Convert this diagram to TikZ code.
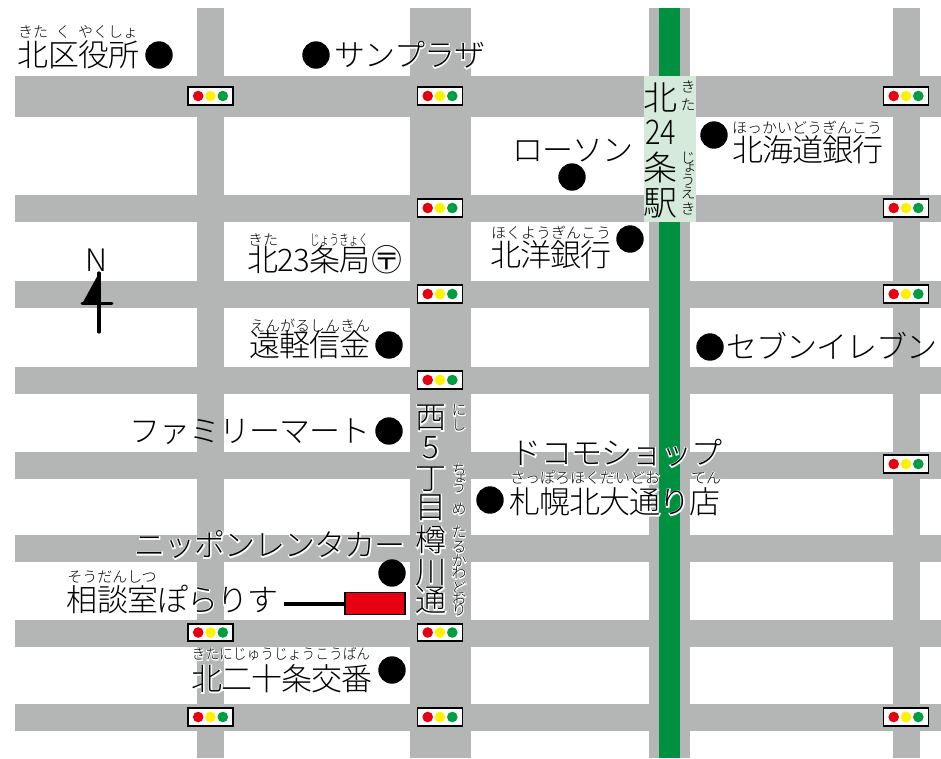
\documentclass[tikz,border=0pt]{standalone}
\usepackage{fontspec}
\usepackage{graphicx}
\setmainfont{Noto Sans CJK JP Light}
\newfontfamily\jpbig[LetterSpace=-3.2]{Noto Sans CJK JP Light}
\newfontfamily\jphalobig[LetterSpace=-3.2,FakeBold=7]{Noto Sans CJK JP Light}
\newfontfamily\jphalosmall[FakeBold=12]{Noto Sans CJK JP Light}
\newfontfamily\jphalovert[FakeBold=12,RawFeature=+vert]{Noto Sans CJK JP Light}
\newfontfamily\jpvert[RawFeature=+vert]{Noto Sans CJK JP Light}
\definecolor{roadgray}{HTML}{B4B5B5}
\definecolor{railgreen}{HTML}{009140}
\definecolor{stationgreen}{HTML}{D5EADA}
\definecolor{sigred}{HTML}{E60012}
\definecolor{sigyellow}{HTML}{FFF100}
\definecolor{siggreen}{HTML}{009E40}
\newcommand{\hl}[1]{\leavevmode\rlap{\color{white}\jphalocur #1}#1}
\newcommand{\hlv}[1]{\leavevmode\rlap{\color{white}\jphalovert #1}\jpvert #1}
\tikzset{
  road/.style={fill=roadgray,draw=none},
  big/.style={inner sep=0pt,font=\let\jphalocur\jphalobig\jpbig\fontsize{31}{31}\selectfont,text height=27.3pt,text depth=3.7pt},
  stationchar/.style={inner sep=0pt,font=\jpbig\fontsize{34}{34}\selectfont,text height=30pt,text depth=4pt},
  ruby/.style={inner sep=0pt,font=\let\jphalocur\jphalosmall\fontsize{15}{15}\selectfont,text height=13.2pt,text depth=1.8pt},
  spot/.style={circle,fill=black,draw=none,minimum size=27.4pt,inner sep=0pt},
  sigbox/.style={draw=black,line width=1.8pt,fill=white,minimum width=45pt,minimum height=17.3pt,inner sep=0pt},
  lamp/.style={circle,draw=none,minimum size=10.6pt,inner sep=0pt},
  signal/.pic={
    \node[sigbox] at (0,0) {};
    \node[lamp,fill=sigred] at (-12.3,0) {};
    \node[lamp,fill=sigyellow] at (0,0) {};
    \node[lamp,fill=siggreen] at (12.3,0) {};
  }
}
\begin{document}
\begin{tikzpicture}[x=1pt,y=-1pt]
\useasboundingbox (0,0) rectangle (941,758);
% roads
\foreach \a/\b in {76/117,195/222,281/308,367/394,452/479,535/562,620/647,704/731}
  \fill[road] (15,\a) rectangle (941,\b);
\foreach \a/\b in {197/224,410/471,649/690,893/920}
  \fill[road] (\a,8) rectangle (\b,758);
\fill[railgreen] (659,8) rectangle (680,758);
\fill[stationgreen] (644,76) rectangle (696,222);
% signals
\foreach \x/\y in {210.5/96,440/96,906/96,440/208,906/208,440/294,906/294,440/380,906/464,210.5/632.5,440/632.5,210.5/717,440/717,906/717}
  \pic at (\x,\y) {signal};
% spots
\node[spot] (d1) at (159,55) {};
\node[spot] (d2) at (316,55) {};
\node[spot] (d3) at (572,177) {};
\node[spot] (d4) at (714,135) {};
\node[spot] (d5) at (630,239) {};
\node[spot] (d6) at (389,345) {};
\node[spot] (d7) at (710,347) {};
\node[spot] (d8) at (389,431) {};
\node[spot] (d9) at (490,500) {};
\node[spot] (d10) at (392,573) {};
\node[spot] (d11) at (392,670) {};
% labels
\node[big] (kuyakusho) at (78.5,55) {北区役所};
\node[ruby] (r1a) at (33,32) {きた};
\node[ruby] (r1b) at (63,32) {く};
\node[ruby] (r1c) at (108,32) {やくしょ};
\node[big] (sunplaza) at (410,55) {\hl{サンプラザ}};
\node[big] (lawson) at (573,150) {ローソン};
\node[big] (hokkaido) at (808,150) {北海道銀行};
\node[ruby] (r2) at (807,128) {ほっかいどうぎんこう};
\node[big] (hokuyo) at (551,255) {北洋銀行};
\node[ruby] (r3) at (551,233) {ほくようぎんこう};
\node[big] (post) at (309,260) {北23条局};
\node[ruby] (r4a) at (263,240) {きた};
\node[ruby] (r4b) at (339,240) {\scalebox{.65}[1]{じょうきょく}};
\node[big] (postmark) at (387,260) {〶};
\node[big] (engaru) at (310,345) {遠軽信金};
\node[ruby] (r5) at (310,326) {えんがるしんきん};
\node[big] (north) at (96,260) {N};
\node[big] (seven) at (832,347) {セブンイレブン};
\node[big] (family) at (250,431) {ファミリーマート};
\node[big] (docomo) at (616.5,453) {\hl{ドコモショップ}};
\node[ruby] (r6a) at (585,478) {\hl{さっぽろほくだいどお}};
\node[ruby] (r6b) at (706,478) {\hl{てん}};
\node[big] (sapporo) at (615,502) {\hl{札幌北大通り店}};
\node[big] (nippon) at (270,545) {\hl{ニッポンレンタカー}};
\node[big] (soudan) at (172.5,600) {\hl{相談室ぽらりす}};
\node[ruby] (r7) at (112,577) {そうだんしつ};
\node[big] (koban) at (282,679) {\hl{北二十条交番}};
\node[ruby] (r8) at (281,654) {\hl{\scalebox{.915}[1]{きたにじゅうじょうこうばん}}};
% station name (vertical)
\node[stationchar] (s1) at (660.5,97) {北};
\node[stationchar] (s2) at (660.5,131) {\scalebox{.85}[1]{24}};
\node[stationchar] (s3) at (660.5,167) {条};
\node[stationchar] (s4) at (660.5,202) {駅};
\foreach \n/\c/\y in {a/き/87,b/た/105,c/じ/158,d/ょ/168,e/う/180,f/え/193,g/き/209}
  \node[ruby] (sr\n) at (688,\y) {\jpvert\c};
% street name (vertical)
\foreach \n/\c/\y in {a/西/417,b/5/447,c/丁/478,d/目/507,e/樽/540,f/川/572,g/通/600}
  \node[big] (w\n) at (431,\y) {\hl{\c}};
\foreach \n/\c/\y in {a/に/410,b/し/425,c/ち/470,d/ょ/478,e/う/487,f/め/509,g/た/532,h/る/547,i/か/561,j/わ/573,k/ど/588,l/お/599,m/り/610}
  \node[ruby] (wr\n) at (459,\y) {\hlv{\c}};
% north arrow
\coordinate (ntop) at (99,273);
\coordinate (nbot) at (99,332);
\coordinate (nleft) at (82,304);
\coordinate (nright) at (112,303);
\coordinate (nmid) at (99,304);
\fill[black] (ntop) -- (nleft) -- (nmid) -- cycle;
\draw[line width=3.2pt,line cap=round] (ntop) -- (nbot);
\draw[line width=3pt,line cap=round] (nleft |- nright) -- (nright);
% office marker
\node[draw=black,line width=1.5pt,fill=sigred,minimum width=60pt,minimum height=22pt,inner sep=0pt] (office) at (375,603.5) {};
\coordinate (leader) at (284,604);
\draw[line width=3.2pt] (leader) -- (office.west |- leader);
\end{tikzpicture}
\end{document}
